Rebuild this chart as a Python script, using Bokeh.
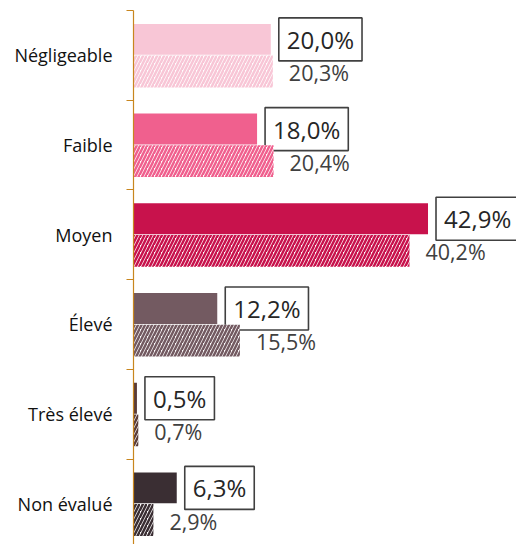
from bokeh.plotting import figure
from bokeh.models import ColumnDataSource, Range1d, FixedTicker
from bokeh.core.properties import value
from bokeh.embed import file_html
from bokeh.resources import INLINE

categories = ["Négligeable", "Faible", "Moyen", "Élevé", "Très élevé", "Non évalué"]
solid_values = [20.0, 18.0, 42.9, 12.2, 0.5, 6.3]
hatched_values = [20.3, 20.4, 40.2, 15.5, 0.7, 2.9]
colors = ["#F8C6D6", "#F0608E", "#C8124C", "#735A61", "#5A3C38", "#3A2E33"]

def fmt(v):
    return f"{v:.1f}".replace(".", ",") + "%"

pos = list(range(len(categories)))
src = ColumnDataSource(dict(
    pos=pos,
    y_solid=[p_ - 0.178 for p_ in pos],
    y_hatch=[p_ + 0.18 for p_ in pos],
    solid=solid_values,
    hatched=hatched_values,
    solid_lbl=[fmt(v) for v in solid_values],
    hatch_lbl=[fmt(v) for v in hatched_values],
    color=colors,
))

p = figure(width=516, height=544, output_backend="svg", toolbar_location=None,
           x_range=Range1d(0, 383 / 6.865), y_range=Range1d(5.453, -0.5),
           min_border_left=133, min_border_right=0, min_border_top=10, min_border_bottom=0)
p.outline_line_color = None
p.xgrid.visible = False
p.ygrid.visible = False
p.xaxis.visible = False
p.background_fill_color = "white"
p.border_fill_color = "white"

yax = p.yaxis[0]
yax.ticker = FixedTicker(ticks=pos, minor_ticks=[i - 0.5 for i in range(len(categories) + 1)])
yax.major_label_overrides = {i: c for i, c in enumerate(categories)}
yax.axis_line_color = "#C8861E"
yax.axis_line_width = 1.2
yax.major_tick_line_color = None
yax.major_tick_out = 0
yax.major_tick_in = 0
yax.minor_tick_line_color = "#C8861E"
yax.minor_tick_line_width = 1.2
yax.minor_tick_out = 7
yax.minor_tick_in = 0
yax.major_label_standoff = 14
yax.major_label_text_font = "Open Sans"
yax.major_label_text_font_size = "18px"
yax.major_label_text_color = "#111111"

p.hbar(y="y_solid", left=0, right="solid", height=0.345, source=src,
       fill_color="color", line_color=None)

p.text(x="solid", y="y_solid", text="solid_lbl", source=src, x_offset=8,
       text_align="left", text_baseline="middle", text_font=value("Open Sans"),
       text_font_size="24px", text_color="#262626",
       border_line_color="#404040", border_line_width=1.6,
       background_fill_color="white",
       padding=dict(left=8, right=8, top=5, bottom=5))

p.hbar(y="y_hatch", left=0, right="hatched", height=0.355, source=src,
       fill_color="white", line_color=None, hatch_pattern="right_diagonal_line",
       hatch_color="color", hatch_scale=7, hatch_weight=2.5)

p.text(x="hatched", y="y_hatch", text="hatch_lbl", source=src, x_offset=16, y_offset=1,
       text_align="left", text_baseline="middle", text_font=value("Open Sans"),
       text_font_size="21.5px", text_color="#404040")

open("out.html", "w").write(file_html(p, INLINE))
